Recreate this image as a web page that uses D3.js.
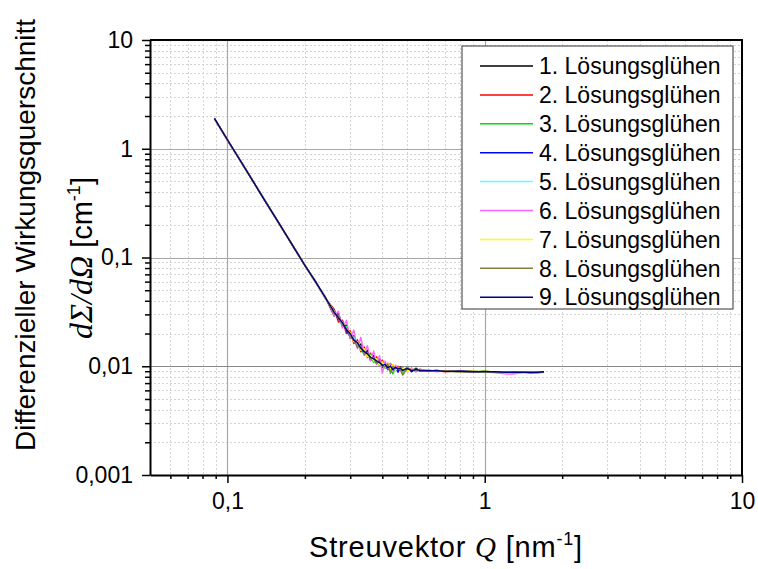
<!DOCTYPE html>
<html>
<head>
<meta charset="utf-8">
<script src="https://cdn.jsdelivr.net/npm/d3@7"></script>
<style>
body { margin: 0; background: #fff; }
text { font-family: "Liberation Sans", Arial, sans-serif; fill: #000; }
</style>
</head>
<body>
<svg id="chart" width="758" height="569"></svg>
<script>
// Streuvektor Q [nm^-1], shared by all series
var qValues = [0.089, 0.1, 0.12, 0.14, 0.16, 0.18, 0.2, 0.22, 0.24, 0.26, 0.27, 0.28, 0.29, 0.3, 0.31, 0.32, 0.33, 0.34, 0.35, 0.36,
	0.37, 0.38, 0.39, 0.4, 0.41, 0.42, 0.43, 0.44, 0.45, 0.46, 0.47, 0.48, 0.5, 0.52, 0.54, 0.56, 0.6, 0.65, 0.7, 0.8,
	0.9, 1.0, 1.1, 1.2, 1.3, 1.4, 1.5, 1.6, 1.7];

var seriesNames = ["1. Lösungsglühen", "2. Lösungsglühen", "3. Lösungsglühen", "4. Lösungsglühen", "5. Lösungsglühen",
	"6. Lösungsglühen", "7. Lösungsglühen", "8. Lösungsglühen", "9. Lösungsglühen"];
var seriesColors = ["#000000", "#ff0000", "#00e000", "#0000ff", "#66ffff", "#ff66ff", "#ffff00", "#808040", "#000080"];

// dSigma/dOmega [cm^-1]
var s1 = [1.89, 1.20, 0.600, 0.335, 0.200, 0.126, 0.0850, 0.0595, 0.0430,
	0.0290, 0.0305, 0.0235, 0.0238, 0.0183, 0.0190, 0.0150, 0.0160, 0.0130, 0.0140, 0.0116, 0.0125, 0.0105, 0.0118, 0.0098, 0.0108,
	0.0094, 0.0106, 0.0092, 0.0101, 0.0090, 0.0099, 0.0091, 0.0097, 0.0089, 0.0096, 0.0090,
	0.0092, 0.0090, 0.0091, 0.0089, 0.0090, 0.0088, 0.0089, 0.0089, 0.0088, 0.0089, 0.0087, 0.0088, 0.0089];
var s2 = [1.90, 1.22, 0.605, 0.330, 0.197, 0.128, 0.0840, 0.0600, 0.0420,
	0.0335, 0.0255, 0.0265, 0.0200, 0.0212, 0.0162, 0.0175, 0.0136, 0.0150, 0.0120, 0.0132, 0.0110, 0.0122, 0.0104, 0.0114, 0.0097,
	0.0107, 0.0093, 0.0103, 0.0092, 0.0100, 0.0091, 0.0097, 0.0090, 0.0096, 0.0089, 0.0094,
	0.0090, 0.0092, 0.0089, 0.0091, 0.0088, 0.0090, 0.0088, 0.0089, 0.0087, 0.0089, 0.0088, 0.0087, 0.0088];
var s3 = [1.88, 1.21, 0.598, 0.333, 0.201, 0.127, 0.0855, 0.0590, 0.0435,
	0.0300, 0.0290, 0.0230, 0.0232, 0.0180, 0.0188, 0.0155, 0.0150, 0.0126, 0.0133, 0.0128, 0.0108, 0.0117, 0.0101, 0.0110, 0.0096,
	0.0104, 0.0093, 0.0085, 0.0100, 0.0094, 0.0097, 0.0084, 0.0098, 0.0092, 0.0094, 0.0091,
	0.0091, 0.0090, 0.0091, 0.0090, 0.0089, 0.0090, 0.0088, 0.0089, 0.0088, 0.0088, 0.0089, 0.0088, 0.0088];
var s4 = [1.90, 1.20, 0.602, 0.331, 0.199, 0.127, 0.0848, 0.0605, 0.0428,
	0.0325, 0.0270, 0.0258, 0.0210, 0.0190, 0.0172, 0.0158, 0.0145, 0.0132, 0.0136, 0.0113, 0.0122, 0.0108, 0.0115, 0.0099, 0.0107,
	0.0093, 0.0102, 0.0092, 0.0099, 0.0088, 0.0097, 0.0093, 0.0095, 0.0091, 0.0094, 0.0092,
	0.0091, 0.0091, 0.0090, 0.0090, 0.0089, 0.0089, 0.0089, 0.0088, 0.0088, 0.0088, 0.0088, 0.0088, 0.0088];
var s5 = [1.89, 1.21, 0.600, 0.332, 0.199, 0.127, 0.0845, 0.0598, 0.0425,
	0.0310, 0.0286, 0.0242, 0.0228, 0.0194, 0.0182, 0.0163, 0.0148, 0.0138, 0.0128, 0.0124, 0.0116, 0.0113, 0.0108, 0.0105, 0.0103,
	0.0100, 0.0099, 0.0097, 0.0096, 0.0096, 0.0094, 0.0095, 0.0093, 0.0093, 0.0092, 0.0092,
	0.0091, 0.0090, 0.0090, 0.0089, 0.0089, 0.0089, 0.0088, 0.0088, 0.0088, 0.0088, 0.0088, 0.0088, 0.0088];
var s6 = [1.91, 1.19, 0.610, 0.328, 0.203, 0.125, 0.0860, 0.0585, 0.0440,
	0.0290, 0.0320, 0.0225, 0.0265, 0.0180, 0.0215, 0.0145, 0.0185, 0.0128, 0.0155, 0.0112, 0.0138, 0.0104, 0.0125, 0.0086, 0.0112,
	0.0095, 0.0106, 0.0090, 0.0102, 0.0093, 0.0098, 0.0094, 0.0090, 0.0096, 0.0089, 0.0093,
	0.0092, 0.0089, 0.0091, 0.0090, 0.0088, 0.0089, 0.0087, 0.0085, 0.0085, 0.0087, 0.0088, 0.0089, 0.0088];
var s7 = [1.88, 1.21, 0.597, 0.334, 0.198, 0.128, 0.0852, 0.0592, 0.0432,
	0.0322, 0.0275, 0.0256, 0.0214, 0.0205, 0.0168, 0.0168, 0.0140, 0.0145, 0.0122, 0.0126, 0.0112, 0.0118, 0.0103, 0.0110, 0.0098,
	0.0107, 0.0095, 0.0104, 0.0092, 0.0098, 0.0093, 0.0096, 0.0090, 0.0094, 0.0092, 0.0092,
	0.0092, 0.0090, 0.0091, 0.0089, 0.0090, 0.0088, 0.0089, 0.0088, 0.0089, 0.0088, 0.0088, 0.0089, 0.0088];
var s8 = [1.89, 1.20, 0.603, 0.330, 0.200, 0.126, 0.0842, 0.0602, 0.0428,
	0.0305, 0.0292, 0.0238, 0.0224, 0.0186, 0.0176, 0.0149, 0.0155, 0.0130, 0.0134, 0.0117, 0.0121, 0.0106, 0.0112, 0.0101, 0.0099,
	0.0105, 0.0086, 0.0100, 0.0095, 0.0097, 0.0093, 0.0083, 0.0096, 0.0092, 0.0093, 0.0091,
	0.0091, 0.0091, 0.0090, 0.0089, 0.0089, 0.0089, 0.0088, 0.0088, 0.0089, 0.0088, 0.0087, 0.0088, 0.0088];
var s9 = [1.90, 1.21, 0.600, 0.332, 0.200, 0.127, 0.0848, 0.0597, 0.0430,
	0.0315, 0.0278, 0.0252, 0.0216, 0.0200, 0.0174, 0.0165, 0.0146, 0.0137, 0.0130, 0.0121, 0.0117, 0.0112, 0.0108, 0.0102, 0.0104,
	0.0097, 0.0100, 0.0093, 0.0098, 0.0094, 0.0096, 0.0092, 0.0095, 0.0091, 0.0093, 0.0092,
	0.0091, 0.0091, 0.0090, 0.0090, 0.0089, 0.0089, 0.0089, 0.0088, 0.0088, 0.0088, 0.0088, 0.0088, 0.0089];
var allSeries = [s1, s2, s3, s4, s5, s6, s7, s8, s9];

var xTicks = [0.1, 1, 10];
var xTickLabels = ["0,1", "1", "10"];
var yTicks = [0.001, 0.01, 0.1, 1, 10];
var yTickLabels = ["0,001", "0,01", "0,1", "1", "10"];

var svg = d3.select("#chart");
var pLeft = 150, pRight = 742, pTop = 40, pBottom = 475;

var x = d3.scaleLog().domain([0.05, 10]).range([pLeft, pRight]);
var y = d3.scaleLog().domain([0.001, 10]).range([pBottom, pTop]);

// minor values 2..9 per decade
var xMinor = [], yMinor = [];
[0.01, 0.1, 1].forEach(function(b) {
	for (var k = 2; k <= 9; k++) {
		var v = +(b * k).toPrecision(3);
		if (v > 0.05 && v < 10) xMinor.push(v);
	}
});
[0.001, 0.01, 0.1, 1].forEach(function(b) {
	for (var k = 2; k <= 9; k++) yMinor.push(+(b * k).toPrecision(3));
});

var grid = svg.append("g");
grid.selectAll(".gxm").data(xMinor).enter().append("line")
	.attr("x1", function(d) { return Math.round(x(d)) + 0.5 }).attr("x2", function(d) { return Math.round(x(d)) + 0.5 })
	.attr("y1", pTop).attr("y2", pBottom)
	.attr("stroke", "#d4d4d4").attr("stroke-dasharray", "2,2");
grid.selectAll(".gym").data(yMinor).enter().append("line")
	.attr("y1", function(d) { return Math.round(y(d)) + 0.5 }).attr("y2", function(d) { return Math.round(y(d)) + 0.5 })
	.attr("x1", pLeft).attr("x2", pRight)
	.attr("stroke", "#d4d4d4").attr("stroke-dasharray", "2,2");
grid.selectAll(".gx").data([0.1, 1]).enter().append("line")
	.attr("x1", function(d) { return Math.round(x(d)) + 0.5 }).attr("x2", function(d) { return Math.round(x(d)) + 0.5 })
	.attr("y1", pTop).attr("y2", pBottom)
	.attr("stroke", "#a8a8a8").attr("stroke-width", 1.2);
grid.selectAll(".gy").data([0.01, 0.1, 1]).enter().append("line")
	.attr("y1", function(d) { return Math.round(y(d)) + 0.5 }).attr("y2", function(d) { return Math.round(y(d)) + 0.5 })
	.attr("x1", pLeft).attr("x2", pRight)
	.attr("stroke", function(d) { return d == 0.01 ? "#888" : "#a8a8a8" }).attr("stroke-width", 1.2);

// curves
var line = d3.line()
	.x(function(d) { return x(d[0]) })
	.y(function(d) { return y(d[1]) });

svg.append("g").selectAll("path").data(allSeries).enter().append("path")
	.attr("d", function(s) { return line(qValues.map(function(q, i) { return [q, s[i]] })) })
	.attr("fill", "none")
	.attr("stroke", function(d, i) { return seriesColors[i] })
	.attr("stroke-width", 1.4)
	.attr("stroke-linejoin", "round");

// frame (top, right)
svg.append("line").attr("x1", pLeft).attr("x2", pRight + 1).attr("y1", pTop).attr("y2", pTop)
	.attr("stroke", "#000").attr("stroke-width", 2);
svg.append("line").attr("x1", pRight).attr("x2", pRight).attr("y1", pTop).attr("y2", pBottom)
	.attr("stroke", "#000").attr("stroke-width", 2);

// axes
var xAxis = svg.append("g").attr("transform", "translate(0," + pBottom + ")")
	.call(d3.axisBottom(x).tickValues(xTicks).tickSize(8).tickSizeOuter(0).tickPadding(10)
		.tickFormat(function(d, i) { return xTickLabels[i] }));
svg.append("g").attr("transform", "translate(0," + pBottom + ")")
	.call(d3.axisBottom(x).tickValues(xMinor).tickSize(4).tickSizeOuter(0).tickFormat(""))
	.select(".domain").remove();
var yAxis = svg.append("g").attr("transform", "translate(" + pLeft + ",0)")
	.call(d3.axisLeft(y).tickValues(yTicks).tickSize(8).tickSizeOuter(0).tickPadding(9)
		.tickFormat(function(d, i) { return yTickLabels[i] }));
svg.append("g").attr("transform", "translate(" + pLeft + ",0)")
	.call(d3.axisLeft(y).tickValues(yMinor).tickSize(5).tickSizeOuter(0).tickFormat(""))
	.select(".domain").remove();

svg.selectAll(".domain").attr("stroke-width", 2);
svg.selectAll(".tick line").attr("stroke-width", 1.5);
xAxis.selectAll("text").style("font-size", "23px").attr("font-family", null);
yAxis.selectAll("text").style("font-size", "23px").attr("font-family", null);

// axis titles
var xt = svg.append("text").attr("x", (pLeft + pRight) / 2).attr("y", 557)
	.attr("text-anchor", "middle").style("font-size", "29px").style("letter-spacing", "0.8px");
xt.append("tspan").text("Streuvektor ");
xt.append("tspan").text("Q").style("font-family", "Liberation Serif, serif").style("font-style", "italic");
xt.append("tspan").text(" [nm");
xt.append("tspan").text("-1").attr("dy", -12).style("font-size", "18px");
xt.append("tspan").text("]").attr("dy", 12);

svg.append("text").attr("transform", "translate(35,235) rotate(-90)")
	.attr("text-anchor", "middle").style("font-size", "28px")
	.text("Differenzieller Wirkungsquerschnitt");

var yt = svg.append("text").attr("transform", "translate(92,258) rotate(-90)")
	.attr("text-anchor", "middle").style("font-size", "29px");
yt.append("tspan").text("dΣ/dΩ").style("font-family", "Liberation Serif, serif").style("font-style", "italic").style("font-size", "32px");
yt.append("tspan").text(" [cm");
yt.append("tspan").text("-1").attr("dy", -12).style("font-size", "18px");
yt.append("tspan").text("]").attr("dy", 12);

// legend
var legend = svg.append("g");
legend.append("rect").attr("x", 462).attr("y", 46).attr("width", 271).attr("height", 263)
	.attr("fill", "#fff").attr("stroke", "#555").attr("stroke-width", 1.2);
var items = legend.selectAll(".item").data(seriesNames).enter().append("g")
	.attr("transform", function(d, i) { return "translate(0," + (66 + i * 28.9) + ")" });
items.append("line").attr("x1", 480).attr("x2", 533).attr("y1", 0).attr("y2", 0)
	.attr("stroke", function(d, i) { return seriesColors[i] }).attr("stroke-width", 1.5);
items.append("text").attr("x", 539).attr("y", 0).attr("dy", "0.36em")
	.style("font-size", "23px").text(function(d) { return d });
</script>
</body>
</html>
